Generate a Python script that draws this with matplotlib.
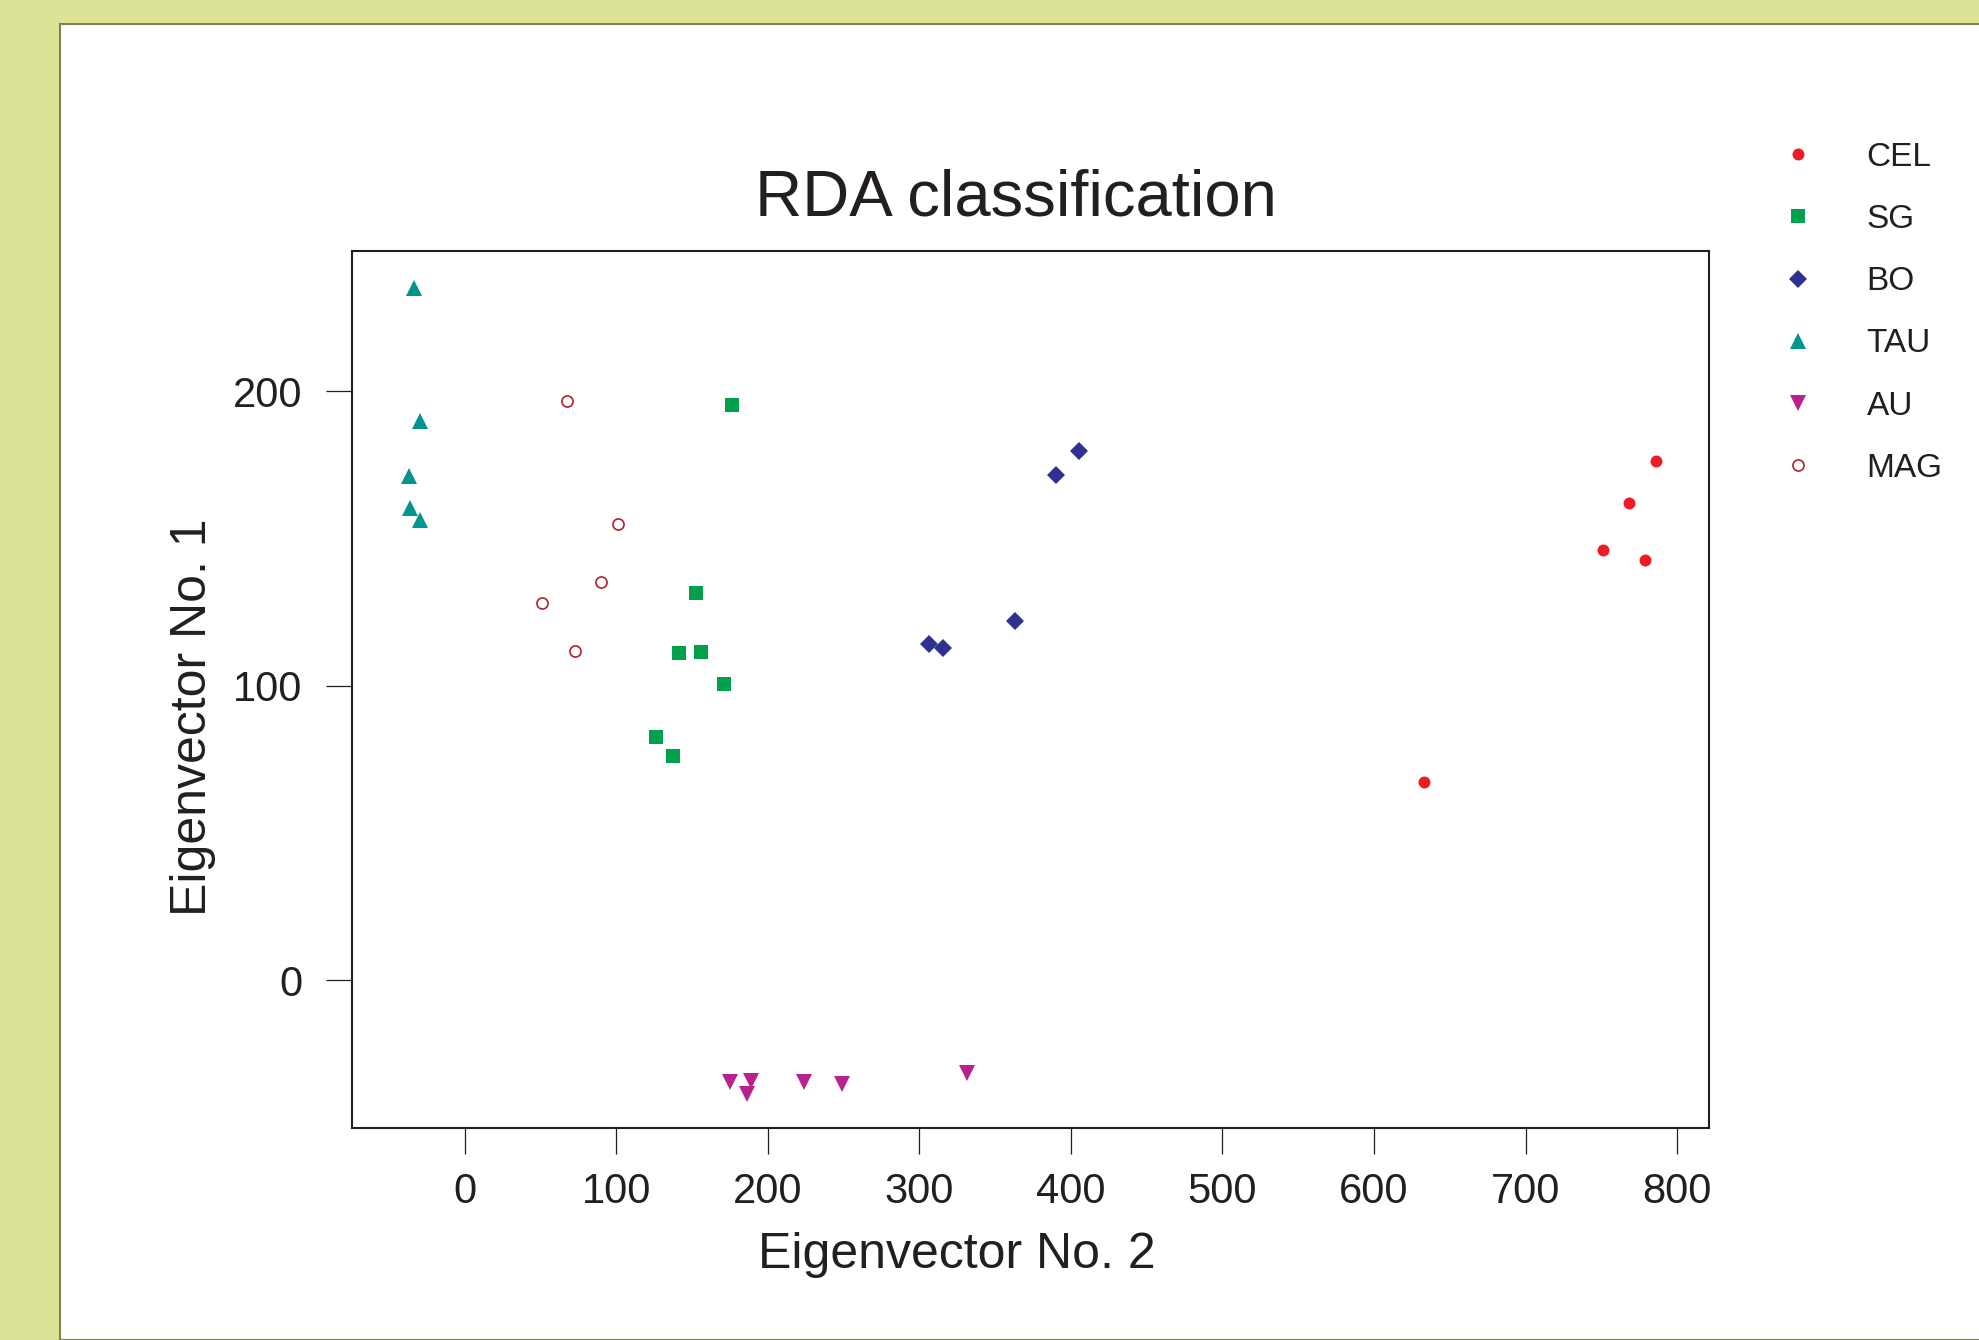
# RDA classification scatter plot, six groups on the first two eigenvectors

import matplotlib.pyplot as plt
from matplotlib.patches import Rectangle

groups = ['CEL', 'SG', 'BO', 'TAU', 'AU', 'MAG']

cel_x = [786.1, 768.4, 750.8, 778.6, 633.2]
cel_y = [176.4, 162.2, 146.2, 142.9, 67.5]

sg_x = [176.2, 152.6, 141.2, 156.2, 171.3, 126.2, 137.4]
sg_y = [195.5, 131.7, 111.1, 111.7, 100.7, 82.7, 76.3]

bo_x = [405.6, 390.4, 362.9, 306.4, 315.3]
bo_y = [179.9, 171.5, 122.0, 114.3, 112.9]

tau_x = [-33.3, -29.5, -37.0, -36.0, -29.5]
tau_y = [235.1, 190.0, 171.3, 160.5, 156.2]

au_x = [174.9, 188.8, 186.1, 223.9, 248.8, 331.3]
au_y = [-34.6, -34.2, -38.5, -34.6, -35.3, -31.3]

mag_x = [67.6, 101.5, 90.3, 51.3, 72.7]
mag_y = [196.9, 155.1, 135.2, 128.1, 112.0]

x_ticks = [0, 100, 200, 300, 400, 500, 600, 700, 800]
y_ticks = [0, 100, 200]

INK = '#231f20'


def main():
    plt.rcParams['font.family'] = ['Liberation Sans', 'DejaVu Sans']
    W, H = 1979, 1340
    fig = plt.figure(figsize=(W / 100, H / 100), dpi=100)
    fig.patch.set_facecolor('#dce396')

    # white panel with thin olive edge
    fig.add_artist(Rectangle((60 / W, 0), 1 - 60 / W + 0.01, (H - 24) / H,
                             transform=fig.transFigure, facecolor='white',
                             edgecolor='#7d8050', linewidth=1.5, zorder=0))

    ax = fig.add_axes([351.7 / W, 212.3 / H, (1709 - 351.7) / W, (1127.7 - 251) / H])
    ax.set_facecolor('white')

    styles = [
        (cel_x, cel_y, dict(marker='o', color='#ed1c24', markersize=8.6)),
        (sg_x, sg_y, dict(marker='s', color='#00a14b', markersize=9.6)),
        (bo_x, bo_y, dict(marker='D', color='#2e3192', markersize=9.4)),
        (tau_x, tau_y, dict(marker='^', color='#00958f', markersize=11)),
        (au_x, au_y, dict(marker='v', color='#b8228e', markersize=11)),
        (mag_x, mag_y, dict(marker='o', color='#b0232a', markersize=8,
                            markerfacecolor='none', markeredgewidth=1.2)),
    ]
    handles = []
    for (xs, ys, st), name in zip(styles, groups):
        h, = ax.plot(xs, ys, linestyle='none', markeredgewidth=st.pop('markeredgewidth', 0),
                     label=name, **st)
        handles.append(h)

    ax.set_xlim(-74.5, 821)
    ax.set_ylim(-50, 247.7)
    ax.set_xticks(x_ticks)
    ax.set_yticks(y_ticks)
    for s in ax.spines.values():
        s.set_linewidth(1.5)
        s.set_color(INK)
    ax.tick_params(axis='both', direction='out', length=18.7, width=0.9,
                   color=INK, labelcolor=INK, labelsize=30)
    ax.tick_params(axis='x', pad=13)
    ax.tick_params(axis='y', pad=17)

    fig.text(1016 / W, 1 - 216 / H, 'RDA classification', ha='center',
             va='baseline', fontsize=47, color=INK)
    fig.text(956.7 / W, 1 - 1268.4 / H, 'Eigenvector No. 2', ha='center',
             va='baseline', fontsize=36, color=INK)
    fig.text(205.7 / W, 1 - 717.5 / H, 'Eigenvector No. 1', ha='center',
             va='baseline', rotation=90, rotation_mode='anchor', fontsize=36, color=INK)

    fig.legend(handles, groups, loc='upper left',
               bbox_to_anchor=(1781.3 / W, 1 - 141.5 / H), frameon=False,
               fontsize=24, handlelength=1.0, handletextpad=1.56,
               labelspacing=0.94, borderpad=0, borderaxespad=0,
               labelcolor=INK)

    fig.savefig('out.png', dpi=100, facecolor=fig.get_facecolor())


if __name__ == '__main__':
    main()
